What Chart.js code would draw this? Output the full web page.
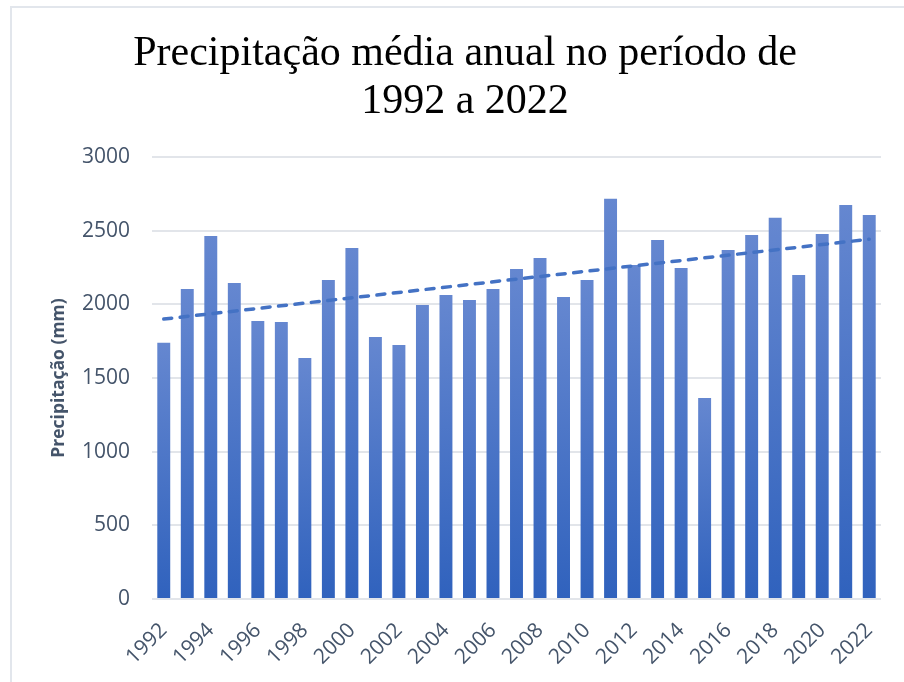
<!DOCTYPE html>
<html>
<head>
<meta charset="utf-8">
<script src="https://cdn.jsdelivr.net/npm/chart.js@4/dist/chart.umd.min.js"></script>
<style>
    html, body { margin: 0; padding: 0; background: #fff; overflow: hidden; }
    #frame { position: absolute; left: 10px; top: 6px; width: 1000px; height: 1000px; border: 2px solid #e2e6ec; }
    #wrap { position: absolute; left: 0; top: 0; width: 904px; height: 682px; }
</style>
</head>
<body>
<div id="frame"></div>
<div id="wrap"><canvas id="chuva"></canvas></div>
<script>
// anos e precipitação média anual (mm)
const anos = ['1992','1993','1994','1995','1996','1997','1998','1999','2000','2001','2002',
              '2003','2004','2005','2006','2007','2008','2009','2010','2011','2012',
              '2013','2014','2015','2016','2017','2018','2019','2020','2021','2022'];
const precipitacao = [1740, 2104, 2464, 2145, 1887, 1880, 1636, 2166, 2383, 1779, 1724,
                      1996, 2064, 2030, 2104, 2240, 2315, 2050, 2166, 2716, 2267,
                      2437, 2247, 1365, 2369, 2471, 2587, 2200, 2478, 2675, 2607];
// linha de tendência (início e fim)
const tendencia = [1900, 2442];
const yTicks = [0, 500, 1000, 1500, 2000, 2500, 3000];

const corTexto = '#44546a';
const corGrade = '#e2e5ea';

function corBarra(context) {
    var chart = context.chart;
    var area = chart.chartArea;
    if (!area || context.type !== 'data') return '#4f78c8';
    var topo = chart.scales.y.getPixelForValue(context.raw);
    var base = chart.scales.y.getPixelForValue(0);
    var g = chart.ctx.createLinearGradient(0, topo, 0, base);
    g.addColorStop(0, '#6587d0');
    g.addColorStop(1, '#3062bd');
    return g;
}

var ctx = document.getElementById('chuva').getContext('2d');
new Chart(ctx, {
    data: {
        labels: anos,
        datasets: [{
            type: 'bar',
            data: precipitacao,
            backgroundColor: corBarra,
            barPercentage: 0.55,
            categoryPercentage: 1,
            order: 2
        }, {
            type: 'line',
            data: [{x: anos[0], y: tendencia[0]}, {x: anos[anos.length - 1], y: tendencia[1]}],
            borderColor: '#4472c4',
            borderWidth: 3.5,
            borderDash: [8, 8.5],
            borderCapStyle: 'round',
            pointRadius: 0,
            fill: false,
            order: 1
        }]
    },
    options: {
        responsive: true,
        maintainAspectRatio: false,
        animation: false,
        layout: { padding: { left: 49, right: 23, top: 0, bottom: 0 } },
        plugins: {
            legend: { display: false },
            tooltip: { enabled: false },
            title: {
                display: true,
                text: ['Precipitação média anual no período de', '1992 a 2022'],
                color: '#000',
                font: { family: '"Liberation Serif", "Times New Roman", serif', size: 42, weight: 'normal', lineHeight: 1.143 },
                padding: { top: 30, bottom: 31 }
            }
        },
        scales: {
            x: {
                grid: { display: false, drawTicks: false },
                border: { display: false },
                ticks: {
                    autoSkip: false,
                    maxRotation: 45,
                    minRotation: 45,
                    padding: 19,
                    color: corTexto,
                    font: { family: '"Open Sans", sans-serif', size: 21 },
                    callback: function (value, index) {
                        return index % 2 === 0 ? anos[index] : '';
                    }
                },
                afterFit: function (scale) {
                    scale.height = 83;
                    scale.paddingLeft = 0;
                    scale.paddingRight = 0;
                }
            },
            y: {
                min: 0,
                max: 3000,
                afterBuildTicks: function (scale) {
                    scale.ticks = yTicks.map(v => ({ value: v }));
                },
                grid: { color: corGrade, lineWidth: 2, drawTicks: false },
                border: { display: false },
                ticks: {
                    padding: 22,
                    color: corTexto,
                    font: { family: '"Open Sans", sans-serif', size: 21 },
                    callback: function (value) { return String(value); }
                },
                title: {
                    display: true,
                    text: 'Precipitação (mm)',
                    color: corTexto,
                    font: { family: '"Open Sans", sans-serif', size: 17.5, weight: 'bold' },
                    padding: { top: 0, bottom: 0 }
                },
                afterFit: function (scale) { scale.width = 103; }
            }
        }
    }
});
</script>
</body>
</html>
